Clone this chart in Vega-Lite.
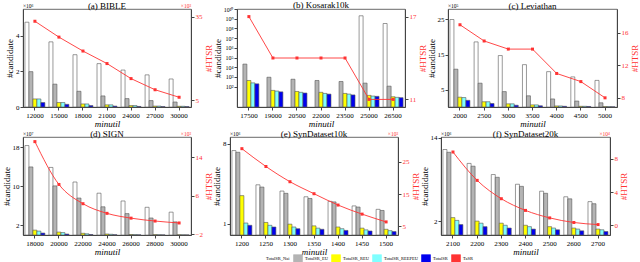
{
"$schema":"https://vega.github.io/schema/vega-lite/v6.json",
"padding":{"left":1,"top":0,"right":1,"bottom":0},
"spacing":0,
"resolve":{"scale":{"color":"shared"},"legend":{"color":"shared"}},
"config":{
 "font":"Liberation Serif",
 "view":{"stroke":"#444","strokeWidth":0.8},
 "axis":{"labelFont":"Liberation Serif","titleFont":"Liberation Serif","labelFontSize":7,"titleFontSize":9,"titleFontWeight":"normal","grid":false,"tickSize":3,"tickColor":"#444","domainColor":"#444","labelPadding":1,"titlePadding":1,"labelOverlap":false,"labelFlush":false},
 "axisX":{"labelAngle":0,"titleFontStyle":"italic","titlePadding":1},
 "axisRight":{"titleAngle":270,"titleBaseline":"top","titlePadding":2},
 "title":{"font":"Liberation Serif","fontSize":9,"fontWeight":"normal","offset":-7,"color":"#000","anchor":"middle","frame":"group"}
},
"datasets":{
"a_bar":[
{"minutil":12000,"method":"TotalSR_Nai","candidate":4.75},{"minutil":12000,"method":"TotalSR_EU","candidate":1.98},{"minutil":12000,"method":"TotalSR_REU","candidate":0.45},{"minutil":12000,"method":"TotalSR_REEPEU","candidate":0.45},{"minutil":12000,"method":"TotalSR","candidate":0.25},
{"minutil":15000,"method":"TotalSR_Nai","candidate":3.65},{"minutil":15000,"method":"TotalSR_EU","candidate":1.28},{"minutil":15000,"method":"TotalSR_REU","candidate":0.25},{"minutil":15000,"method":"TotalSR_REEPEU","candidate":0.25},{"minutil":15000,"method":"TotalSR","candidate":0.15},
{"minutil":18000,"method":"TotalSR_Nai","candidate":2.93},{"minutil":18000,"method":"TotalSR_EU","candidate":0.88},{"minutil":18000,"method":"TotalSR_REU","candidate":0.17},{"minutil":18000,"method":"TotalSR_REEPEU","candidate":0.17},{"minutil":18000,"method":"TotalSR","candidate":0.08},
{"minutil":21000,"method":"TotalSR_Nai","candidate":2.43},{"minutil":21000,"method":"TotalSR_EU","candidate":0.62},{"minutil":21000,"method":"TotalSR_REU","candidate":0.12},{"minutil":21000,"method":"TotalSR_REEPEU","candidate":0.12},{"minutil":21000,"method":"TotalSR","candidate":0.05},
{"minutil":24000,"method":"TotalSR_Nai","candidate":2.07},{"minutil":24000,"method":"TotalSR_EU","candidate":0.47},{"minutil":24000,"method":"TotalSR_REU","candidate":0.08},{"minutil":24000,"method":"TotalSR_REEPEU","candidate":0.08},{"minutil":24000,"method":"TotalSR","candidate":0.03},
{"minutil":27000,"method":"TotalSR_Nai","candidate":1.8},{"minutil":27000,"method":"TotalSR_EU","candidate":0.36},{"minutil":27000,"method":"TotalSR_REU","candidate":0.05},{"minutil":27000,"method":"TotalSR_REEPEU","candidate":0.05},{"minutil":27000,"method":"TotalSR","candidate":0.02},
{"minutil":30000,"method":"TotalSR_Nai","candidate":1.57},{"minutil":30000,"method":"TotalSR_EU","candidate":0.28},{"minutil":30000,"method":"TotalSR_REU","candidate":0.04},{"minutil":30000,"method":"TotalSR_REEPEU","candidate":0.04},{"minutil":30000,"method":"TotalSR","candidate":0.02}],
"a_line":[{"minutil":12000,"htsr":33.4},{"minutil":15000,"htsr":27.7},{"minutil":18000,"htsr":22.7},{"minutil":21000,"htsr":18.2},{"minutil":24000,"htsr":12.8},{"minutil":27000,"htsr":8.8},{"minutil":30000,"htsr":6.1}],
"b_bar":[
{"minutil":25000,"method":"TotalSR_Nai","candidate":2000000000},{"minutil":26500,"method":"TotalSR_Nai","candidate":320000000},
{"minutil":17500,"method":"TotalSR_EU","candidate":21000},{"minutil":17500,"method":"TotalSR_REU","candidate":430},{"minutil":17500,"method":"TotalSR_REEPEU","candidate":245},{"minutil":17500,"method":"TotalSR","candidate":195},
{"minutil":19000,"method":"TotalSR_EU","candidate":930},{"minutil":19000,"method":"TotalSR_REU","candidate":41},{"minutil":19000,"method":"TotalSR_REEPEU","candidate":35},{"minutil":19000,"method":"TotalSR","candidate":29},
{"minutil":20500,"method":"TotalSR_EU","candidate":580},{"minutil":20500,"method":"TotalSR_REU","candidate":32},{"minutil":20500,"method":"TotalSR_REEPEU","candidate":26},{"minutil":20500,"method":"TotalSR","candidate":22},
{"minutil":22000,"method":"TotalSR_EU","candidate":430},{"minutil":22000,"method":"TotalSR_REU","candidate":26},{"minutil":22000,"method":"TotalSR_REEPEU","candidate":20},{"minutil":22000,"method":"TotalSR","candidate":17},
{"minutil":23500,"method":"TotalSR_EU","candidate":340},{"minutil":23500,"method":"TotalSR_REU","candidate":20},{"minutil":23500,"method":"TotalSR_REEPEU","candidate":17},{"minutil":23500,"method":"TotalSR","candidate":14},
{"minutil":25000,"method":"TotalSR_EU","candidate":230},{"minutil":25000,"method":"TotalSR_REU","candidate":12.6},{"minutil":25000,"method":"TotalSR_REEPEU","candidate":10.7},{"minutil":25000,"method":"TotalSR","candidate":10},
{"minutil":26500,"method":"TotalSR_EU","candidate":112},{"minutil":26500,"method":"TotalSR_REU","candidate":9.1},{"minutil":26500,"method":"TotalSR_REEPEU","candidate":7.9},{"minutil":26500,"method":"TotalSR","candidate":7.3}],
"b_line":[{"minutil":17500,"htsr":17},{"minutil":19000,"htsr":14},{"minutil":20500,"htsr":14},{"minutil":22000,"htsr":14},{"minutil":23500,"htsr":14},{"minutil":25000,"htsr":11},{"minutil":26500,"htsr":11}],
"c_bar":[
{"minutil":2000,"method":"TotalSR_Nai","candidate":25.0},{"minutil":2000,"method":"TotalSR_EU","candidate":10.8},{"minutil":2000,"method":"TotalSR_REU","candidate":2.8},{"minutil":2000,"method":"TotalSR_REEPEU","candidate":2.7},{"minutil":2000,"method":"TotalSR","candidate":1.9},
{"minutil":2500,"method":"TotalSR_Nai","candidate":18.6},{"minutil":2500,"method":"TotalSR_EU","candidate":6.8},{"minutil":2500,"method":"TotalSR_REU","candidate":1.5},{"minutil":2500,"method":"TotalSR_REEPEU","candidate":1.5},{"minutil":2500,"method":"TotalSR","candidate":1.0},
{"minutil":3000,"method":"TotalSR_Nai","candidate":14.7},{"minutil":3000,"method":"TotalSR_EU","candidate":4.4},{"minutil":3000,"method":"TotalSR_REU","candidate":0.9},{"minutil":3000,"method":"TotalSR_REEPEU","candidate":0.9},{"minutil":3000,"method":"TotalSR","candidate":0.5},
{"minutil":3500,"method":"TotalSR_Nai","candidate":12.1},{"minutil":3500,"method":"TotalSR_EU","candidate":3.2},{"minutil":3500,"method":"TotalSR_REU","candidate":0.6},{"minutil":3500,"method":"TotalSR_REEPEU","candidate":0.6},{"minutil":3500,"method":"TotalSR","candidate":0.35},
{"minutil":4000,"method":"TotalSR_Nai","candidate":10.1},{"minutil":4000,"method":"TotalSR_EU","candidate":2.3},{"minutil":4000,"method":"TotalSR_REU","candidate":0.3},{"minutil":4000,"method":"TotalSR_REEPEU","candidate":0.3},{"minutil":4000,"method":"TotalSR","candidate":0.2},
{"minutil":4500,"method":"TotalSR_Nai","candidate":8.6},{"minutil":4500,"method":"TotalSR_EU","candidate":1.7},{"minutil":4500,"method":"TotalSR_REU","candidate":0.2},{"minutil":4500,"method":"TotalSR_REEPEU","candidate":0.2},{"minutil":4500,"method":"TotalSR","candidate":0.15},
{"minutil":5000,"method":"TotalSR_Nai","candidate":7.6},{"minutil":5000,"method":"TotalSR_EU","candidate":1.2},{"minutil":5000,"method":"TotalSR_REU","candidate":0.1},{"minutil":5000,"method":"TotalSR_REEPEU","candidate":0.1},{"minutil":5000,"method":"TotalSR","candidate":0.05}],
"c_line":[{"minutil":2000,"htsr":17},{"minutil":2500,"htsr":15},{"minutil":3000,"htsr":14},{"minutil":3500,"htsr":14},{"minutil":4000,"htsr":11},{"minutil":4500,"htsr":10},{"minutil":5000,"htsr":8}],
"d_bar":[
{"minutil":18000,"method":"TotalSR_Nai","candidate":18.4},{"minutil":18000,"method":"TotalSR_EU","candidate":14.0},{"minutil":18000,"method":"TotalSR_REU","candidate":1.0},{"minutil":18000,"method":"TotalSR_REEPEU","candidate":0.8},{"minutil":18000,"method":"TotalSR","candidate":0.4},
{"minutil":20000,"method":"TotalSR_Nai","candidate":13.9},{"minutil":20000,"method":"TotalSR_EU","candidate":10.1},{"minutil":20000,"method":"TotalSR_REU","candidate":0.6},{"minutil":20000,"method":"TotalSR_REEPEU","candidate":0.5},{"minutil":20000,"method":"TotalSR","candidate":0.2},
{"minutil":22000,"method":"TotalSR_Nai","candidate":10.9},{"minutil":22000,"method":"TotalSR_EU","candidate":7.6},{"minutil":22000,"method":"TotalSR_REU","candidate":0.35},{"minutil":22000,"method":"TotalSR_REEPEU","candidate":0.25},{"minutil":22000,"method":"TotalSR","candidate":0.1},
{"minutil":24000,"method":"TotalSR_Nai","candidate":8.6},{"minutil":24000,"method":"TotalSR_EU","candidate":5.8},{"minutil":24000,"method":"TotalSR_REU","candidate":0.2},{"minutil":24000,"method":"TotalSR_REEPEU","candidate":0.15},{"minutil":24000,"method":"TotalSR","candidate":0.05},
{"minutil":26000,"method":"TotalSR_Nai","candidate":7.0},{"minutil":26000,"method":"TotalSR_EU","candidate":4.4},{"minutil":26000,"method":"TotalSR_REU","candidate":0.1},{"minutil":26000,"method":"TotalSR_REEPEU","candidate":0.08},{"minutil":26000,"method":"TotalSR","candidate":0.03},
{"minutil":28000,"method":"TotalSR_Nai","candidate":5.7},{"minutil":28000,"method":"TotalSR_EU","candidate":3.5},{"minutil":28000,"method":"TotalSR_REU","candidate":0.07},{"minutil":28000,"method":"TotalSR_REEPEU","candidate":0.05},{"minutil":28000,"method":"TotalSR","candidate":0.02},
{"minutil":30000,"method":"TotalSR_Nai","candidate":4.7},{"minutil":30000,"method":"TotalSR_EU","candidate":2.7},{"minutil":30000,"method":"TotalSR_REU","candidate":0.05},{"minutil":30000,"method":"TotalSR_REEPEU","candidate":0.03},{"minutil":30000,"method":"TotalSR","candidate":0.01}],
"d_line":[{"minutil":18000,"htsr":17.2},{"minutil":20000,"htsr":8.3},{"minutil":22000,"htsr":4.3},{"minutil":24000,"htsr":2.3},{"minutil":26000,"htsr":1.3},{"minutil":28000,"htsr":0.7},{"minutil":30000,"htsr":0.3}],
"e_bar":[
{"minutil":1200,"method":"TotalSR_Nai","candidate":7.4},{"minutil":1200,"method":"TotalSR_EU","candidate":7.25},{"minutil":1200,"method":"TotalSR_REU","candidate":3.45},{"minutil":1200,"method":"TotalSR_REEPEU","candidate":1.05},{"minutil":1200,"method":"TotalSR","candidate":0.85},
{"minutil":1250,"method":"TotalSR_Nai","candidate":4.4},{"minutil":1250,"method":"TotalSR_EU","candidate":4.2},{"minutil":1250,"method":"TotalSR_REU","candidate":1.1},{"minutil":1250,"method":"TotalSR_REEPEU","candidate":0.85},{"minutil":1250,"method":"TotalSR","candidate":0.7},
{"minutil":1300,"method":"TotalSR_Nai","candidate":3.85},{"minutil":1300,"method":"TotalSR_EU","candidate":3.65},{"minutil":1300,"method":"TotalSR_REU","candidate":0.95},{"minutil":1300,"method":"TotalSR_REEPEU","candidate":0.7},{"minutil":1300,"method":"TotalSR","candidate":0.55},
{"minutil":1350,"method":"TotalSR_Nai","candidate":3.35},{"minutil":1350,"method":"TotalSR_EU","candidate":3.2},{"minutil":1350,"method":"TotalSR_REU","candidate":0.8},{"minutil":1350,"method":"TotalSR_REEPEU","candidate":0.6},{"minutil":1350,"method":"TotalSR","candidate":0.5},
{"minutil":1400,"method":"TotalSR_Nai","candidate":2.95},{"minutil":1400,"method":"TotalSR_EU","candidate":2.9},{"minutil":1400,"method":"TotalSR_REU","candidate":0.7},{"minutil":1400,"method":"TotalSR_REEPEU","candidate":0.55},{"minutil":1400,"method":"TotalSR","candidate":0.4},
{"minutil":1450,"method":"TotalSR_Nai","candidate":2.55},{"minutil":1450,"method":"TotalSR_EU","candidate":2.45},{"minutil":1450,"method":"TotalSR_REU","candidate":0.6},{"minutil":1450,"method":"TotalSR_REEPEU","candidate":0.45},{"minutil":1450,"method":"TotalSR","candidate":0.35},
{"minutil":1500,"method":"TotalSR_Nai","candidate":2.25},{"minutil":1500,"method":"TotalSR_EU","candidate":2.15},{"minutil":1500,"method":"TotalSR_REU","candidate":0.5},{"minutil":1500,"method":"TotalSR_REEPEU","candidate":0.38},{"minutil":1500,"method":"TotalSR","candidate":0.3}],
"e_line":[{"minutil":1200,"htsr":29},{"minutil":1250,"htsr":23.5},{"minutil":1300,"htsr":18.8},{"minutil":1350,"htsr":15.1},{"minutil":1400,"htsr":11.6},{"minutil":1450,"htsr":8.8},{"minutil":1500,"htsr":6.4}],
"f_bar":[
{"minutil":2100,"method":"TotalSR_Nai","candidate":12.3},{"minutil":2100,"method":"TotalSR_EU","candidate":11.9},{"minutil":2100,"method":"TotalSR_REU","candidate":2.5},{"minutil":2100,"method":"TotalSR_REEPEU","candidate":2.1},{"minutil":2100,"method":"TotalSR","candidate":1.5},
{"minutil":2200,"method":"TotalSR_Nai","candidate":10.3},{"minutil":2200,"method":"TotalSR_EU","candidate":9.9},{"minutil":2200,"method":"TotalSR_REU","candidate":2.0},{"minutil":2200,"method":"TotalSR_REEPEU","candidate":1.7},{"minutil":2200,"method":"TotalSR","candidate":1.2},
{"minutil":2300,"method":"TotalSR_Nai","candidate":8.7},{"minutil":2300,"method":"TotalSR_EU","candidate":8.3},{"minutil":2300,"method":"TotalSR_REU","candidate":1.7},{"minutil":2300,"method":"TotalSR_REEPEU","candidate":1.4},{"minutil":2300,"method":"TotalSR","candidate":1.0},
{"minutil":2400,"method":"TotalSR_Nai","candidate":7.3},{"minutil":2400,"method":"TotalSR_EU","candidate":7.0},{"minutil":2400,"method":"TotalSR_REU","candidate":1.4},{"minutil":2400,"method":"TotalSR_REEPEU","candidate":1.2},{"minutil":2400,"method":"TotalSR","candidate":0.85},
{"minutil":2500,"method":"TotalSR_Nai","candidate":6.3},{"minutil":2500,"method":"TotalSR_EU","candidate":6.0},{"minutil":2500,"method":"TotalSR_REU","candidate":1.2},{"minutil":2500,"method":"TotalSR_REEPEU","candidate":1.0},{"minutil":2500,"method":"TotalSR","candidate":0.75},
{"minutil":2600,"method":"TotalSR_Nai","candidate":5.5},{"minutil":2600,"method":"TotalSR_EU","candidate":5.2},{"minutil":2600,"method":"TotalSR_REU","candidate":1.0},{"minutil":2600,"method":"TotalSR_REEPEU","candidate":0.85},{"minutil":2600,"method":"TotalSR","candidate":0.6},
{"minutil":2700,"method":"TotalSR_Nai","candidate":4.8},{"minutil":2700,"method":"TotalSR_EU","candidate":4.5},{"minutil":2700,"method":"TotalSR_REU","candidate":0.85},{"minutil":2700,"method":"TotalSR_REEPEU","candidate":0.75},{"minutil":2700,"method":"TotalSR","candidate":0.5}],
"f_line":[{"minutil":2100,"htsr":8.8},{"minutil":2200,"htsr":5.4},{"minutil":2300,"htsr":3.2},{"minutil":2400,"htsr":1.8},{"minutil":2500,"htsr":0.9},{"minutil":2600,"htsr":0.35},{"minutil":2700,"htsr":0.1}]
},
"vconcat":[
{"hconcat":[
{"title":"(a) BIBLE","width":168,"height":98,
 "layer":[
  {"layer":[
   {"data":{"name":"a_bar"},"mark":{"type":"bar","stroke":"#555","strokeWidth":0.6},
    "encoding":{
     "x":{"field":"minutil","type":"ordinal","scale":{"paddingInner":0.17,"paddingOuter":0.08},"axis":{"title":"minutil"}},
     "xOffset":{"field":"method","type":"nominal","scale":{"domain":["TotalSR_Nai","TotalSR_EU","TotalSR_REU","TotalSR_REEPEU","TotalSR"]}},
     "y":{"field":"candidate","type":"quantitative","stack":null,"scale":{"domain":[0,5.49],"nice":false,"zero":false},"axis":{"title":"#candidate","values":[0,1,2,3,4,5]}},
     "color":{"field":"method","type":"nominal","scale":{"domain":["TotalSR_Nai","TotalSR_EU","TotalSR_REU","TotalSR_REEPEU","TotalSR","TaSR"],"range":["#ffffff","#b4b4b4","#ffff00","#80ffff","#0000ee","#ff3333"]},
      "legend":{"orient":"none","legendX":231,"legendY":245,"direction":"horizontal","columns":6,"title":null,"labelFontSize":4.5,"labelFont":"Liberation Serif","labelColor":"#000","labelBaseline":"middle","symbolSize":80,"symbolStrokeWidth":0.6,"columnPadding":2,"labelOffset":2,"padding":0,
       "encode":{"symbols":{"update":{"shape":{"signal":"datum.value === 'TaSR' ? 'M-1,0H1M-0.25,-0.25H0.25V0.25H-0.25Z' : 'M-1,-0.4H1V0.4H-1Z'"},"stroke":{"signal":"datum.value === 'TaSR' ? '#ff3333' : '#444'"},"fill":{"scale":"color","field":"value"},"opacity":{"value":1}}}}}}
    }},
   {"data":{"values":[{}]},"mark":{"type":"text","text":"×10⁶","fontSize":5.5,"align":"left","baseline":"bottom","dx":-12,"dy":-0.5},
    "encoding":{"x":{"datum":12000,"type":"ordinal"},"y":{"datum":5.49,"type":"quantitative"}}}
  ]},
  {"layer":[
   {"data":{"name":"a_line"},"mark":{"type":"line","strokeWidth":0.9},
    "encoding":{"x":{"field":"minutil","type":"ordinal"},
     "y":{"field":"htsr","type":"quantitative","scale":{"domain":[2.6,37.8],"nice":false,"zero":false},"axis":{"orient":"right","title":"#HTSR","values":[5,10,15,20,25,30,35],"labelColor":"#ff3333","titleColor":"#ff3333"}},
     "color":{"datum":"TaSR","type":"nominal"}}},
   {"data":{"name":"a_line"},"mark":{"type":"point","shape":"square","filled":true,"size":9,"color":"#ff3333","opacity":1},
    "encoding":{"x":{"field":"minutil","type":"ordinal"},"y":{"field":"htsr","type":"quantitative"}}},
   {"data":{"values":[{}]},"mark":{"type":"text","text":"×10³","fontSize":5.5,"align":"right","baseline":"bottom","dx":12,"dy":-0.5,"color":"#ff3333"},
    "encoding":{"x":{"datum":30000,"type":"ordinal"},"y":{"datum":37.8,"type":"quantitative"}}}
  ]}
 ],
 "resolve":{"scale":{"y":"independent"}}},
{"title":{"text":"(b) Kosarak10k","offset":-4},"width":168,"height":98,
 "layer":[
  {"data":{"name":"b_bar"},"mark":{"type":"bar","stroke":"#555","strokeWidth":0.6},
   "encoding":{
    "x":{"field":"minutil","type":"ordinal","scale":{"paddingInner":0.17,"paddingOuter":0.08},"axis":{"title":"minutil"}},
    "xOffset":{"field":"method","type":"nominal","scale":{"domain":["TotalSR_Nai","TotalSR_EU","TotalSR_REU","TotalSR_REEPEU","TotalSR"]}},
    "y":{"field":"candidate","type":"quantitative","stack":null,"scale":{"type":"log","domain":[0.8,10000000000],"nice":false},"axis":{"title":"#candidate","values":[100,1000,10000,100000,1000000,10000000,100000000,1000000000,10000000000],"labelFontSize":6,"labelExpr":"'10' + ['⁰','¹','²','³','⁴','⁵','⁶','⁷','⁸','⁹','¹⁰'][round(log(datum.value)/LN10)]"}},
    "y2":{"datum":0.8},
    "color":{"field":"method","type":"nominal"}
   }},
  {"layer":[
   {"data":{"name":"b_line"},"mark":{"type":"line","strokeWidth":0.9},
    "encoding":{"x":{"field":"minutil","type":"ordinal"},
     "y":{"field":"htsr","type":"quantitative","scale":{"domain":[10.45,17.55],"nice":false,"zero":false},"axis":{"orient":"right","title":"#HTSR","values":[11,12,13,14,15,16,17],"labelColor":"#ff3333","titleColor":"#ff3333"}},
     "color":{"datum":"TaSR","type":"nominal"}}},
   {"data":{"name":"b_line"},"mark":{"type":"point","shape":"square","filled":true,"size":9,"color":"#ff3333","opacity":1},
    "encoding":{"x":{"field":"minutil","type":"ordinal"},"y":{"field":"htsr","type":"quantitative"}}}
  ]}
 ],
 "resolve":{"scale":{"y":"independent"}}},
{"title":"(c) Leviathan","width":169,"height":98,
 "layer":[
  {"layer":[
   {"data":{"name":"c_bar"},"mark":{"type":"bar","stroke":"#555","strokeWidth":0.6},
    "encoding":{
     "x":{"field":"minutil","type":"ordinal","scale":{"paddingInner":0.17,"paddingOuter":0.08},"axis":{"title":"minutil"}},
     "xOffset":{"field":"method","type":"nominal","scale":{"domain":["TotalSR_Nai","TotalSR_EU","TotalSR_REU","TotalSR_REEPEU","TotalSR"]}},
     "y":{"field":"candidate","type":"quantitative","stack":null,"scale":{"domain":[0,28.0],"nice":false,"zero":false},"axis":{"title":"#candidate","values":[5,10,15,20,25]}},
     "color":{"field":"method","type":"nominal"}
    }},
   {"data":{"values":[{}]},"mark":{"type":"text","text":"×10⁵","fontSize":5.5,"align":"left","baseline":"bottom","dx":-12,"dy":-0.5},
    "encoding":{"x":{"datum":2000,"type":"ordinal"},"y":{"datum":28.0,"type":"quantitative"}}}
  ]},
  {"layer":[
   {"data":{"name":"c_line"},"mark":{"type":"line","strokeWidth":0.9},
    "encoding":{"x":{"field":"minutil","type":"ordinal"},
     "y":{"field":"htsr","type":"quantitative","scale":{"domain":[6.87,18.94],"nice":false,"zero":false},"axis":{"orient":"right","title":"#HTSR","values":[8,10,12,14,16,18],"labelColor":"#ff3333","titleColor":"#ff3333"}},
     "color":{"datum":"TaSR","type":"nominal"}}},
   {"data":{"name":"c_line"},"mark":{"type":"point","shape":"square","filled":true,"size":9,"color":"#ff3333","opacity":1},
    "encoding":{"x":{"field":"minutil","type":"ordinal"},"y":{"field":"htsr","type":"quantitative"}}}
  ]}
 ],
 "resolve":{"scale":{"y":"independent"}}}
],"spacing":-2},
{"hconcat":[
{"title":"(d) SIGN","width":168,"height":98,
 "layer":[
  {"layer":[
   {"data":{"name":"d_bar"},"mark":{"type":"bar","stroke":"#555","strokeWidth":0.6},
    "encoding":{
     "x":{"field":"minutil","type":"ordinal","scale":{"paddingInner":0.17,"paddingOuter":0.08},"axis":{"title":"minutil"}},
     "xOffset":{"field":"method","type":"nominal","scale":{"domain":["TotalSR_Nai","TotalSR_EU","TotalSR_REU","TotalSR_REEPEU","TotalSR"]}},
     "y":{"field":"candidate","type":"quantitative","stack":null,"scale":{"domain":[0,20.16],"nice":false,"zero":false},"axis":{"title":"#candidate","values":[2,4,6,8,10,12,14,16,18,20]}},
     "color":{"field":"method","type":"nominal"}
    }},
   {"data":{"values":[{}]},"mark":{"type":"text","text":"×10⁷","fontSize":5.5,"align":"left","baseline":"bottom","dx":-12,"dy":-0.5},
    "encoding":{"x":{"datum":18000,"type":"ordinal"},"y":{"datum":20.16,"type":"quantitative"}}}
  ]},
  {"layer":[
   {"data":{"name":"d_line"},"mark":{"type":"line","strokeWidth":0.9,"interpolate":"monotone"},
    "encoding":{"x":{"field":"minutil","type":"ordinal"},
     "y":{"field":"htsr","type":"quantitative","scale":{"domain":[-2.2,18.16],"nice":false,"zero":false},"axis":{"orient":"right","title":"#HTSR","values":[-2,0,2,4,6,8,10,12,14,16,18],"labelColor":"#ff3333","titleColor":"#ff3333"}},
     "color":{"datum":"TaSR","type":"nominal"}}},
   {"data":{"name":"d_line"},"mark":{"type":"point","shape":"square","filled":true,"size":9,"color":"#ff3333","opacity":1},
    "encoding":{"x":{"field":"minutil","type":"ordinal"},"y":{"field":"htsr","type":"quantitative"}}},
   {"data":{"values":[{}]},"mark":{"type":"text","text":"×10³","fontSize":5.5,"align":"right","baseline":"bottom","dx":12,"dy":-0.5,"color":"#ff3333"},
    "encoding":{"x":{"datum":30000,"type":"ordinal"},"y":{"datum":18.16,"type":"quantitative"}}}
  ]}
 ],
 "resolve":{"scale":{"y":"independent"}}},
{"title":"(e) SynDataset10k","width":168,"height":98,
 "layer":[
  {"layer":[
   {"data":{"name":"e_bar"},"mark":{"type":"bar","stroke":"#555","strokeWidth":0.6},
    "encoding":{
     "x":{"field":"minutil","type":"ordinal","scale":{"paddingInner":0.17,"paddingOuter":0.08},"axis":{"title":"minutil"}},
     "xOffset":{"field":"method","type":"nominal","scale":{"domain":["TotalSR_Nai","TotalSR_EU","TotalSR_REU","TotalSR_REEPEU","TotalSR"]}},
     "y":{"field":"candidate","type":"quantitative","stack":null,"scale":{"domain":[0,8.59],"nice":false,"zero":false},"axis":{"title":"#candidate","values":[1,2,3,4,5,6,7,8]}},
     "color":{"field":"method","type":"nominal"}
    }},
   {"data":{"values":[{}]},"mark":{"type":"text","text":"×10⁶","fontSize":5.5,"align":"left","baseline":"bottom","dx":-12,"dy":-0.5},
    "encoding":{"x":{"datum":1200,"type":"ordinal"},"y":{"datum":8.59,"type":"quantitative"}}}
  ]},
  {"layer":[
   {"data":{"name":"e_line"},"mark":{"type":"line","strokeWidth":0.9,"interpolate":"monotone"},
    "encoding":{"x":{"field":"minutil","type":"ordinal"},
     "y":{"field":"htsr","type":"quantitative","scale":{"domain":[2.36,32.6],"nice":false,"zero":false},"axis":{"orient":"right","title":"#HTSR","values":[5,10,15,20,25,30],"labelColor":"#ff3333","titleColor":"#ff3333"}},
     "color":{"datum":"TaSR","type":"nominal"}}},
   {"data":{"name":"e_line"},"mark":{"type":"point","shape":"square","filled":true,"size":9,"color":"#ff3333","opacity":1},
    "encoding":{"x":{"field":"minutil","type":"ordinal"},"y":{"field":"htsr","type":"quantitative"}}},
   {"data":{"values":[{}]},"mark":{"type":"text","text":"×10³","fontSize":5.5,"align":"right","baseline":"bottom","dx":12,"dy":-0.5,"color":"#ff3333"},
    "encoding":{"x":{"datum":1500,"type":"ordinal"},"y":{"datum":32.6,"type":"quantitative"}}}
  ]}
 ],
 "resolve":{"scale":{"y":"independent"}}},
{"title":"(f) SynDataset20k","width":169,"height":98,
 "layer":[
  {"layer":[
   {"data":{"name":"f_bar"},"mark":{"type":"bar","stroke":"#555","strokeWidth":0.6},
    "encoding":{
     "x":{"field":"minutil","type":"ordinal","scale":{"paddingInner":0.17,"paddingOuter":0.08},"axis":{"title":"minutil"}},
     "xOffset":{"field":"method","type":"nominal","scale":{"domain":["TotalSR_Nai","TotalSR_EU","TotalSR_REU","TotalSR_REEPEU","TotalSR"]}},
     "y":{"field":"candidate","type":"quantitative","stack":null,"scale":{"domain":[0,14.1],"nice":false,"zero":false},"axis":{"title":"#candidate","values":[2,4,6,8,10,12,14]}},
     "color":{"field":"method","type":"nominal"}
    }},
   {"data":{"values":[{}]},"mark":{"type":"text","text":"×10⁶","fontSize":5.5,"align":"left","baseline":"bottom","dx":-12,"dy":-0.5},
    "encoding":{"x":{"datum":2100,"type":"ordinal"},"y":{"datum":14.1,"type":"quantitative"}}}
  ]},
  {"layer":[
   {"data":{"name":"f_line"},"mark":{"type":"line","strokeWidth":0.9,"interpolate":"monotone"},
    "encoding":{"x":{"field":"minutil","type":"ordinal"},
     "y":{"field":"htsr","type":"quantitative","scale":{"domain":[-1.15,10.6],"nice":false,"zero":false},"axis":{"orient":"right","title":"#HTSR","values":[0,2,4,6,8,10],"labelColor":"#ff3333","titleColor":"#ff3333"}},
     "color":{"datum":"TaSR","type":"nominal"}}},
   {"data":{"name":"f_line"},"mark":{"type":"point","shape":"square","filled":true,"size":9,"color":"#ff3333","opacity":1},
    "encoding":{"x":{"field":"minutil","type":"ordinal"},"y":{"field":"htsr","type":"quantitative"}}},
   {"data":{"values":[{}]},"mark":{"type":"text","text":"×10⁴","fontSize":5.5,"align":"right","baseline":"bottom","dx":12,"dy":-0.5,"color":"#ff3333"},
    "encoding":{"x":{"datum":2700,"type":"ordinal"},"y":{"datum":10.6,"type":"quantitative"}}}
  ]}
 ],
 "resolve":{"scale":{"y":"independent"}}}
],"spacing":-2}
]
}
